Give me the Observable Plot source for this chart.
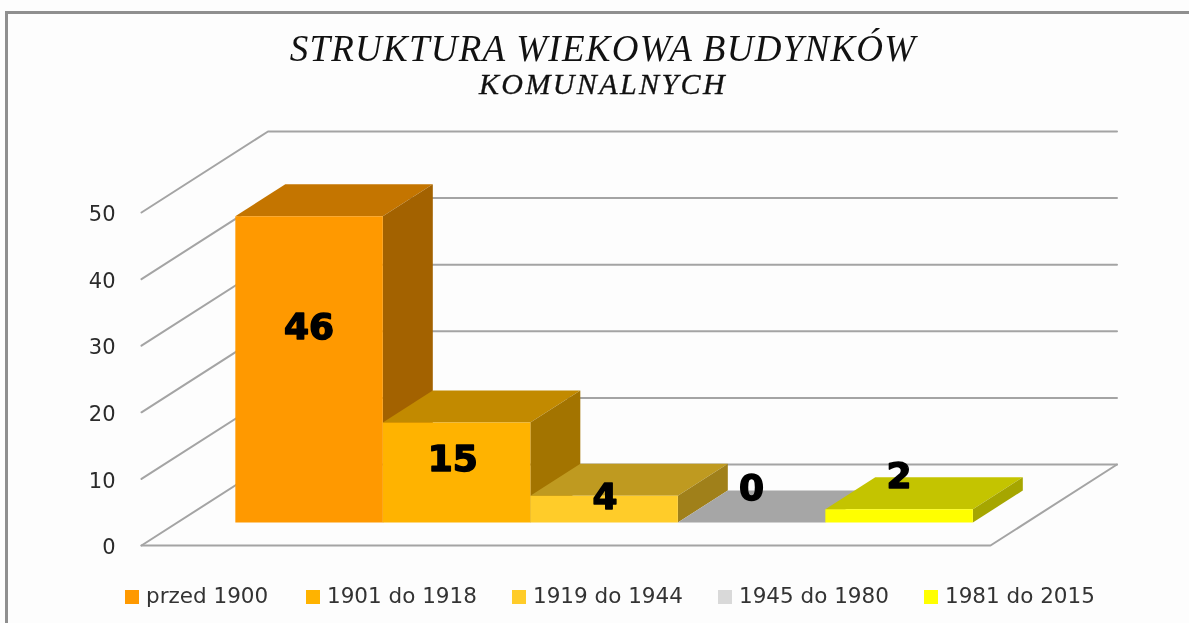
<!DOCTYPE html>
<html lang="pl">
<head>
<meta charset="utf-8">
<script src="https://cdn.jsdelivr.net/npm/d3@7"></script>
<script src="https://cdn.jsdelivr.net/npm/@observablehq/plot@0.6"></script>
<style>
  html, body { margin: 0; padding: 0; background: #fdfdfd; overflow: hidden; }
  #page { position: relative; width: 1189px; height: 623px; overflow: hidden; filter: blur(0.45px); }
  #frame { position: absolute; left: 5px; top: 11px; width: 1300px; height: 800px; border-top: 3px solid #8f8f8f; border-left: 3px solid #8f8f8f; }
  #title { position: absolute; left: 0; top: 30px; width: 1206px; text-align: center; font-family: "Liberation Serif", serif; font-style: italic; color: #111; }
  #title .l1 { font-size: 37px; line-height: 38px; letter-spacing: 1.25px; }
  #title .l2 { font-size: 30px; line-height: 31px; letter-spacing: 2.4px; -webkit-text-stroke: 0.3px #111; }
  #chart { position: absolute; left: 0; top: 118px; }
  #legend { position: absolute; left: 0; top: 582px; height: 28px; font: 21.5px "DejaVu Sans", sans-serif; color: #333; }
  #legend .item { position: absolute; top: 0; white-space: nowrap; line-height: 28px; }
  #legend .sw { display: inline-block; width: 14px; height: 14px; margin-right: 7px; vertical-align: -1px; }
  svg { background: transparent !important; }
</style>
</head>
<body>
<div id="page">
  <div id="frame"></div>
  <div id="title"><div class="l1"></div><div class="l2"></div></div>
  <div id="chart"></div>
  <div id="legend"></div>
</div>
<script>
const titleLines = ["STRUKTURA WIEKOWA BUDYNKÓW", "KOMUNALNYCH"];
const categories = ["przed 1900", "1901 do 1918", "1919 do 1944", "1945 do 1980", "1981 do 2015"];
const values = [46, 15, 4, 0, 2];
const labelHeights = [29.3, 9.5, 3.75, 5.1, 6.9];
const labelShifts = [0, -0.022, 0.005, 0, 0];
const yTicks = [0, 10, 20, 30, 40, 50];
const frontColors = ["#ff9900", "#ffb300", "#ffcc29", "#d9d9d9", "#ffff00"];
const topColors = ["#c47500", "#c28a00", "#bf9a20", "#a6a6a6", "#c4c400"];
const sideColors = ["#a36200", "#a37400", "#a0801a", "#8c8c8c", "#a6a600"];
const legendLeft = [125, 306, 512, 718, 924];

// Oblique projection: slot position, value and depth (0 = front, 1 = back wall)
const depthX = 0.745, depthY = 12.16;
const P = (s, v, d) => ({x: s + d * depthX, y: v + d * depthY});
const slots = categories.length;
const barStart = 0.341, barWidth = 0.8687, barD0 = 0.284, barD1 = 0.679;

const poly = (pts, o) => Plot.line(pts, {x: "x", y: "y", ...o});
const gridStyle = {stroke: "#a4a4a4", strokeWidth: 2};

const gridMarks = yTicks.map(v =>
  poly([P(0, v, 0), P(0, v, 1), P(slots, v, 1)], gridStyle));
const floorMark = poly([P(0, 0, 0), P(slots, 0, 0), P(slots, 0, 1)], gridStyle);

const barMarks = values.flatMap((v, i) => {
  const a = barStart + i * barWidth, b = a + barWidth;
  const marks = [
    poly([P(a, v, barD0), P(b, v, barD0), P(b, v, barD1), P(a, v, barD1)], {fill: topColors[i], stroke: "none"})
  ];
  if (v > 0) marks.push(
    poly([P(b, 0, barD0), P(b, v, barD0), P(b, v, barD1), P(b, 0, barD1)], {fill: sideColors[i], stroke: "none"}),
    poly([P(a, 0, barD0), P(b, 0, barD0), P(b, v, barD0), P(a, v, barD0)], {fill: frontColors[i], stroke: "none"})
  );
  return marks;
});

const labelData = values.map((v, i) => ({
  text: String(v),
  ...P(barStart + (i + 0.5) * barWidth + labelShifts[i], labelHeights[i], barD0)
}));

const chart = Plot.plot({
  width: 1189,
  height: 457,
  marginLeft: 141,
  marginRight: 0,
  marginTop: 0,
  marginBottom: 0,
  x: {domain: [0, slots], range: [141, 990], axis: null},
  y: {domain: [0, 50], range: [427, 94], label: null},
  marks: [
    ...gridMarks,
    floorMark,
    Plot.axisY(yTicks, {anchor: "left", tickSize: 0, tickPadding: 26, fontSize: 21, fill: "#2b2b2b", label: null, fontFamily: "DejaVu Sans", dy: 2}),
    ...barMarks,
    Plot.text(labelData, {x: "x", y: "y", text: "text", fontFamily: "DejaVu Sans", fontWeight: "bold", fontSize: 36, fill: "#000", stroke: "#000", strokeWidth: 1.5})
  ]
});
document.getElementById("chart").appendChild(chart);

document.querySelector("#title .l1").textContent = titleLines[0];
document.querySelector("#title .l2").textContent = titleLines[1];

const legend = document.getElementById("legend");
categories.forEach((c, i) => {
  const item = document.createElement("div");
  item.className = "item";
  item.style.left = legendLeft[i] + "px";
  const sw = document.createElement("span");
  sw.className = "sw";
  sw.style.background = frontColors[i];
  item.appendChild(sw);
  item.appendChild(document.createTextNode(c));
  legend.appendChild(item);
});
</script>
</body>
</html>
